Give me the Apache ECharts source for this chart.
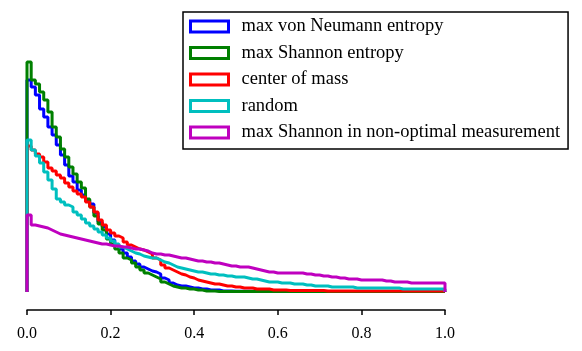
<!DOCTYPE html>
<html>
<head>
<meta charset="utf-8">
<script src="https://cdn.jsdelivr.net/npm/echarts@6/dist/echarts.min.js"></script>
<style>
  html, body { margin: 0; padding: 0; background: #fff; }
  #chart { width: 582px; height: 351px; }
</style>
</head>
<body>
<div id="chart"></div>
<script>
// histogram heights, 100 bins over [0, 1] (arbitrary units, no y axis shown)
const vonNeumann = [212,205,197,183,175,165,157,147,137,127,116,110,102,97,92,88,79,70,65,58,
  52,47,43,39,35,31,28,25,23,21,20,18,14,12,9,7,6,6,5,4,
  4,3,3,2,2,2,1,1,1,0.8,0.8,0.8,0.7,0.7,0.7,0.7,0.7,0.6,0.6,0.6,
  0.6,0.6,0.6,0.5,0.5,0.5,0.5,0.5,0.5,0.5,0.5,0.5,0.5,0.5,0.5,0.5,0.5,0.5,0.5,0.5,
  0.5,0.5,0.5,0.5,0.5,0.5,0.5,0.5,0.5,0.5,0.5,0.5,0.5,0.5,0.5,0.5,0.5,0.5,0.5,0.5];
const shannon = [230,212,208,200,192,180,165,155,143,135,125,118,110,104,93,85,76,68,62,53,
  48,43,39,34,32,29,25,22,19,17,15,13,10,8,6,5,4,4,3,3,
  2,2,1,1,1,0.5,0.5,0.5,0.5,0.5,0.5,0.5,0.5,0.5,0.5,0.5,0.5,0.5,0.5,0.5,
  0.5,0.5,0.5,0.5,0.5,0.5,0.5,0.5,0.5,0.5,0.5,0.5,0.5,0.5,0.5,0.5,0.5,0.5,0.5,0.5,
  0.5,0.5,0.5,0.5,0.5,0.5,0.5,0.5,0.5,0.5,0.5,0.5,0.5,0.5,0.5,0.5,0.5,0.5,0.5,0.5];
const centerOfMass = [146,142,138,135,130,124,121,117,114,109,105,101,98,95,90,85,80,72,67,62,
  59,56,54,50,47,45,43,42,40,38,34,32,27,24,22,20,18,17,15,14,
  12,11,10,9,8,8,7,6,6,5,5,4,4,4,3,3,3,3,2,2,
  2,2,1.5,1.5,1.5,1.5,1.5,1.5,1.5,1.5,1.5,1,1,1,1,1,1,1,1,1,
  1,1,1,1,1,1,1,1,1,1,1,1,1,1,1,1,1,1,1,1];
const randomMeas = [152,142,136,129,120,112,103,93,90,87,85,80,77,73,69,66,63,60,57,54,
  51,48,45,43,41,39,38,36,35,34,34,32,30,29,27,25,24,23,22,21,
  20,20,19,18,18,17,17,16,16,15,15,15,14,13,13,12,11,10,10,10,
  9,9,9,8,8,8,7,7,6,6,6,6,5,5,5,5,5,5,4,4,
  4,4,4,4,4,4,4,4,4,3,3,3,3,3,3,3,3,3,3,3];
const nonOptimal = [77,67,66,65,64,62,60,58,57,56,55,54,53,52,51,50,49,48,48,47,
  46,46,45,45,44,43,43,42,41,39,38,38,37,37,36,35,34,34,33,32,
  31,31,30,30,29,29,28,27,26,26,25,25,25,24,23,22,21,20,20,19,
  19,19,19,19,19,19,18,18,17,17,16,16,15,15,14,14,13,13,13,12,
  12,12,12,12,12,11,11,10,10,10,10,9,9,9,9,9,9,9,9,9];

const seriesNames = ['max von Neumann entropy', 'max Shannon entropy', 'center of mass',
  'random', 'max Shannon in non-optimal measurement'];
const seriesData = [vonNeumann, shannon, centerOfMass, randomMeas, nonOptimal];
const colors = ['#0000ff', '#008000', '#ff0000', '#00bfbf', '#bf00bf'];
const tickLabels = ['0.0', '0.2', '0.4', '0.6', '0.8', '1.0'];

// step outline like a histogram, closed down to zero at both ends
function steps(vals) {
  const n = vals.length;
  const pts = [[0, 0]];
  vals.forEach((v, i) => {
    pts.push([i / n, v]);
    pts.push([(i + 1) / n, v]);
  });
  pts.push([1, 0]);
  return pts;
}

const chart = echarts.init(document.getElementById('chart'));

chart.setOption({
  animation: false,
  grid: { left: 27, right: 137, top: 22, bottom: 59 },
  xAxis: {
    type: 'value',
    min: 0,
    max: 1,
    interval: 0.2,
    offset: 18,
    splitLine: { show: false },
    axisLine: { show: true, onZero: false, lineStyle: { color: '#000', width: 1.5 } },
    axisTick: { show: true, length: 5, lineStyle: { color: '#000', width: 1.5 } },
    axisLabel: {
      color: '#000',
      fontFamily: 'Liberation Serif',
      fontSize: 16,
      margin: 16,
      formatter: (v) => tickLabels[Math.round(v / 0.2)]
    }
  },
  yAxis: { type: 'value', min: 0, max: 270, show: false },
  legend: {
    orient: 'vertical',
    left: 183,
    top: 12,
    icon: 'rect',
    itemWidth: 38,
    itemHeight: 11,
    itemGap: 7.5,
    padding: [5, 8, 7, 6],
    backgroundColor: '#fff',
    borderColor: '#000',
    borderWidth: 1.5,
    borderRadius: 0,
    textStyle: {
      color: '#000',
      fontFamily: 'Liberation Serif',
      fontSize: 18.5,
      padding: [0, 0, 0, 8]
    },
    data: seriesNames.map((name, i) => ({
      name: name,
      itemStyle: { color: '#fff', borderColor: colors[i], borderWidth: 3 }
    }))
  },
  series: seriesNames.map((name, i) => ({
    name: name,
    type: 'line',
    data: steps(seriesData[i]),
    showSymbol: false,
    symbol: 'none',
    clip: false,
    color: colors[i],
    lineStyle: { color: colors[i], width: 3 }
  }))
});
</script>
</body>
</html>
